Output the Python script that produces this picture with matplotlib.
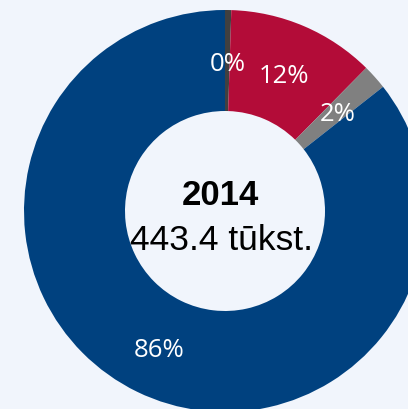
import matplotlib
matplotlib.use("Agg")
import matplotlib.pyplot as plt
import numpy as np

# slice data, clockwise from the top
shares = [0.5, 11.9, 2.0, 85.6]
labels = ["0%", "12%", "2%", "86%"]
colors = ["#404040", "#B30C38", "#808080", "#00417F"]
year = "2014"
total = "443.4 tūkst."

bg = "#F1F5FC"

fig = plt.figure(figsize=(4.08, 4.10), dpi=100)
fig.patch.set_facecolor(bg)
ax = fig.add_axes([0, 0, 1, 1])
ax.set_facecolor(bg)

cx, cy = 225, 198
R, ring = 201, 101

wedges, _ = ax.pie(shares, colors=colors, startangle=90, counterclock=False,
                   radius=R, center=(cx, cy), frame=True,
                   wedgeprops=dict(width=ring, linewidth=0))
ax.set_xlim(0, 408)
ax.set_ylim(0, 410)
ax.set_aspect("equal")
ax.axis("off")

# labels in the middle of the ring
rl = R - ring / 2
for w, lab in zip(wedges, labels):
    mid = np.deg2rad((w.theta1 + w.theta2) / 2)
    ax.text(cx + rl * np.cos(mid), cy + rl * np.sin(mid) - 3, lab,
            ha="center", va="center", color="white", fontsize=18.5,
            family="Open Sans")

ax.text(cx - 5, cy + 16, year, ha="center", va="center", fontsize=25,
        fontweight="bold", family="Liberation Sans", color="black")
ax.text(cx - 3, cy - 29, total, ha="center", va="center", fontsize=25.5,
        family="Liberation Sans", color="black")

fig.savefig("out.png", dpi=100, facecolor=bg)
